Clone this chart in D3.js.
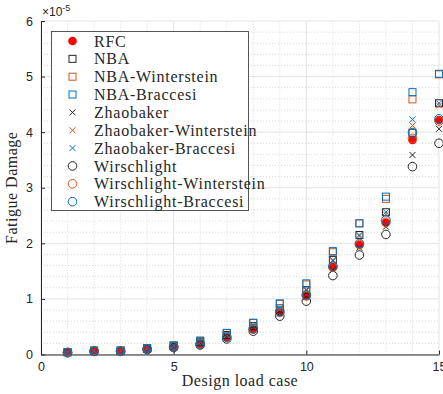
<!DOCTYPE html>
<html>
<head>
<meta charset="utf-8">
<script src="https://cdn.jsdelivr.net/npm/d3@7"></script>
<style>
  html, body { margin: 0; padding: 0; background: #fff; }
  svg { display: block; }
</style>
</head>
<body>
<svg id="chart" width="443" height="394"></svg>
<script>
// Design load cases 1..15
const loadCases = [1, 2, 3, 4, 5, 6, 7, 8, 9, 10, 11, 12, 13, 14, 15];

// Fatigue damage per method, in units of 1e-5
const rfc = [0.035, 0.058, 0.058, 0.092, 0.135, 0.19, 0.31, 0.45, 0.76, 1.05, 1.57, 1.97, 2.37, 3.86, 4.22];
const nba = [0.040, 0.065, 0.065, 0.105, 0.150, 0.22, 0.35, 0.51, 0.83, 1.16, 1.70, 2.15, 2.56, 3.99, 4.52];
const nbaWinterstein = [0.044, 0.070, 0.070, 0.112, 0.160, 0.245, 0.385, 0.57, 0.91, 1.26, 1.84, 2.36, 2.80, 4.59, 5.04];
const nbaBraccesi = [0.045, 0.072, 0.072, 0.115, 0.165, 0.25, 0.39, 0.57, 0.92, 1.28, 1.86, 2.36, 2.84, 4.72, 5.05];
const zhaobaker = [0.036, 0.060, 0.060, 0.095, 0.140, 0.20, 0.32, 0.47, 0.74, 1.04, 1.52, 1.92, 2.30, 3.59, 4.06];
const zhaobakerWinterstein = [0.040, 0.066, 0.066, 0.104, 0.154, 0.22, 0.35, 0.515, 0.815, 1.15, 1.68, 2.13, 2.52, 4.12, 4.48];
const zhaobakerBraccesi = [0.040, 0.067, 0.067, 0.106, 0.157, 0.224, 0.358, 0.526, 0.83, 1.165, 1.70, 2.15, 2.56, 4.23, 4.52];
const wirschlight = [0.033, 0.055, 0.055, 0.088, 0.125, 0.17, 0.28, 0.42, 0.69, 0.96, 1.42, 1.79, 2.16, 3.38, 3.80];
const wirschlightWinterstein = [0.036, 0.061, 0.061, 0.097, 0.138, 0.187, 0.31, 0.46, 0.76, 1.06, 1.57, 1.98, 2.38, 3.89, 4.20];
const wirschlightBraccesi = [0.037, 0.062, 0.062, 0.099, 0.140, 0.19, 0.314, 0.47, 0.77, 1.075, 1.59, 2.00, 2.42, 3.99, 4.24];

const xTicks = [0, 5, 10, 15];
const yTicks = [0, 1, 2, 3, 4, 5, 6];
const yExponent = "-5";

const BLACK = "#262626", ORANGE = "#D95319", BLUE = "#0072BD";

const series = [
  { name: "RFC", values: rfc, marker: "dot", color: "#FF0000" },
  { name: "NBA", values: nba, marker: "square", color: BLACK },
  { name: "NBA-Winterstein", values: nbaWinterstein, marker: "square", color: ORANGE },
  { name: "NBA-Braccesi", values: nbaBraccesi, marker: "square", color: BLUE },
  { name: "Zhaobaker", values: zhaobaker, marker: "cross", color: BLACK },
  { name: "Zhaobaker-Winterstein", values: zhaobakerWinterstein, marker: "cross", color: ORANGE },
  { name: "Zhaobaker-Braccesi", values: zhaobakerBraccesi, marker: "cross", color: BLUE },
  { name: "Wirschlight", values: wirschlight, marker: "circle", color: BLACK },
  { name: "Wirschlight-Winterstein", values: wirschlightWinterstein, marker: "circle", color: ORANGE },
  { name: "Wirschlight-Braccesi", values: wirschlightBraccesi, marker: "circle", color: BLUE }
];

const svg = d3.select("#chart");
const margin = { left: 41, right: 4, top: 21, bottom: 39.5 };
const W = 443, H = 394;
const x = d3.scaleLinear().domain([0, 15]).range([margin.left, W - margin.right]);
const y = d3.scaleLinear().domain([0, 6]).range([H - margin.bottom, margin.top]);

const sans = "'Liberation Sans', Arial, sans-serif";
const serif = "'Liberation Serif', 'Times New Roman', serif";

// Minor grid (dotted)
const gridG = svg.append("g");
d3.range(1, 15).filter(v => v % 5 !== 0).forEach(v => {
  gridG.append("line").attr("x1", x(v)).attr("x2", x(v)).attr("y1", y(0)).attr("y2", y(6))
    .attr("stroke", "#d9d9d9").attr("stroke-width", 1).attr("stroke-dasharray", "1,2");
});
d3.range(0.2, 6, 0.2).filter(v => Math.abs(v - Math.round(v)) > 1e-6).forEach(v => {
  gridG.append("line").attr("x1", x(0)).attr("x2", x(15)).attr("y1", y(v)).attr("y2", y(v))
    .attr("stroke", "#d9d9d9").attr("stroke-width", 1).attr("stroke-dasharray", "1,2");
});
// Major grid
xTicks.forEach(v => {
  gridG.append("line").attr("x1", x(v)).attr("x2", x(v)).attr("y1", y(0)).attr("y2", y(6))
    .attr("stroke", "#e3e3e3").attr("stroke-width", 1);
});
yTicks.forEach(v => {
  gridG.append("line").attr("x1", x(0)).attr("x2", x(15)).attr("y1", y(v)).attr("y2", y(v))
    .attr("stroke", "#e3e3e3").attr("stroke-width", 1);
});

// Axes
const xAxis = svg.append("g").attr("transform", `translate(0,${y(0)})`)
  .call(d3.axisBottom(x).tickValues(xTicks).tickFormat(d3.format("d"))
    .tickSizeInner(-4).tickSizeOuter(0).tickPadding(8));
const yAxis = svg.append("g").attr("transform", `translate(${x(0)},0)`)
  .call(d3.axisLeft(y).tickValues(yTicks).tickFormat(d3.format("d"))
    .tickSizeInner(-4).tickSizeOuter(0).tickPadding(8));
[xAxis, yAxis].forEach(g => {
  g.select(".domain").attr("stroke", BLACK).attr("stroke-width", 1);
  g.selectAll(".tick line").attr("stroke", BLACK);
  g.selectAll(".tick text").attr("fill", BLACK).style("font-family", sans).style("font-size", "12.5px");
});

// Exponent label
const expo = svg.append("text").attr("x", x(0) + 1).attr("y", 16)
  .attr("fill", BLACK).style("font-family", sans).style("font-size", "12px");
expo.append("tspan").text("\u00d710");
expo.append("tspan").attr("dy", -5).style("font-size", "9px").text(yExponent);

// Axis titles
svg.append("text").attr("x", (x(0) + x(15)) / 2).attr("y", 386).attr("text-anchor", "middle")
  .attr("fill", BLACK).style("font-family", serif).style("font-size", "16px")
  .style("letter-spacing", "0.5px").text("Design load case");
svg.append("text").attr("transform", `translate(17,${(y(0) + y(6)) / 2}) rotate(-90)`)
  .attr("text-anchor", "middle").attr("fill", BLACK)
  .style("font-family", serif).style("font-size", "16px")
  .style("letter-spacing", "0.5px").text("Fatigue Damage");

// Marker drawing
function drawMarker(g, type, color) {
  if (type === "dot") {
    g.append("circle").attr("r", 4.3).attr("fill", color);
  } else if (type === "square") {
    g.append("rect").attr("x", -3.5).attr("y", -3.5).attr("width", 7).attr("height", 7)
      .attr("fill", "none").attr("stroke", color).attr("stroke-width", 1);
  } else if (type === "cross") {
    g.append("path").attr("d", "M-3,-3L3,3M-3,3L3,-3")
      .attr("fill", "none").attr("stroke", color).attr("stroke-width", 1);
  } else if (type === "circle") {
    g.append("circle").attr("r", 4.3)
      .attr("fill", "none").attr("stroke", color).attr("stroke-width", 1);
  }
}

const plot = svg.append("g");
series.forEach(s => {
  const sg = plot.append("g");
  s.values.forEach((v, i) => {
    const mg = sg.append("g").attr("transform", `translate(${x(loadCases[i])},${y(v)})`);
    drawMarker(mg, s.marker, s.color);
  });
});

// Legend
const legend = svg.append("g");
legend.append("rect").attr("x", 51.5).attr("y", 31.5).attr("width", 197).attr("height", 179)
  .attr("fill", "#fff").attr("stroke", "#555").attr("stroke-width", 1);
series.forEach((s, i) => {
  const cy = 41 + i * 17.85;
  const mg = legend.append("g").attr("transform", `translate(72.5,${cy})`);
  drawMarker(mg, s.marker, s.color);
  legend.append("text").attr("x", 94).attr("y", cy).attr("dy", "0.35em")
    .attr("fill", BLACK).style("font-family", serif).style("font-size", "16px")
    .style("letter-spacing", "0.75px").text(s.name);
});
</script>
</body>
</html>
